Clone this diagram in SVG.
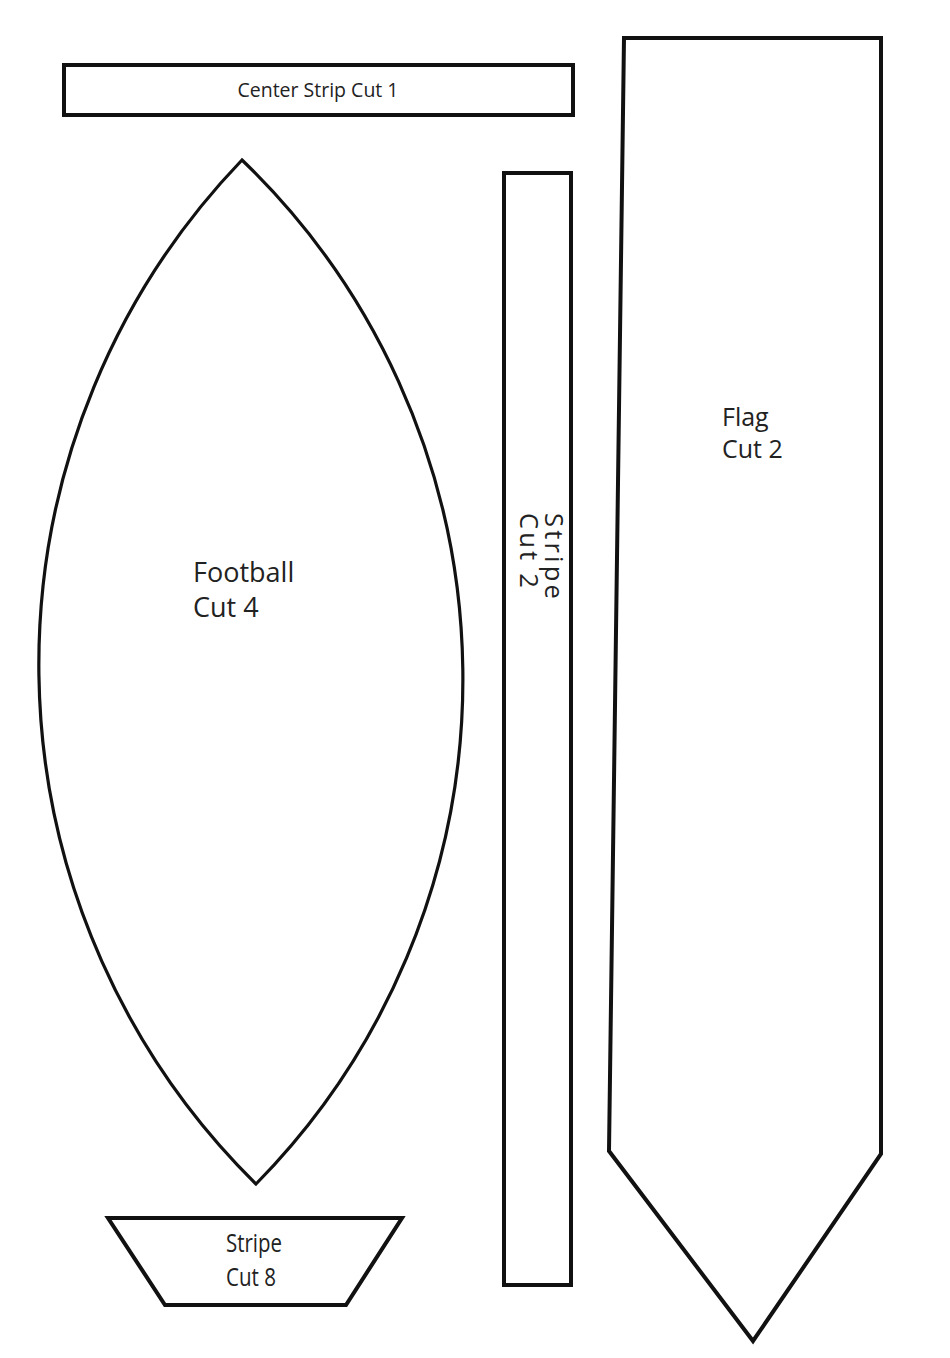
<svg xmlns="http://www.w3.org/2000/svg" width="950" height="1358" viewBox="0 0 950 1358">
<style>
.shape{fill:#fff;stroke:#111;stroke-width:4;stroke-linejoin:miter}
.curve{fill:#fff;stroke:#111;stroke-width:3.2}
.lbl{font-family:"Open Sans","Liberation Sans",sans-serif;fill:#222}
</style>
<rect width="950" height="1358" fill="#fff"/>
<g id="center-strip">
<rect class="shape" x="64" y="65" width="509" height="50"/>
<text class="lbl" x="318" y="97" font-size="19.5" text-anchor="middle">Center Strip Cut 1</text>
</g>
<g id="football">
<path class="curve" d="M242,160 A729,729 0 0 0 256,1184 A720,720 0 0 0 242,160 Z"/>
<text class="lbl" x="193" y="582" font-size="27">Football</text>
<text class="lbl" x="193" y="617" font-size="27">Cut 4</text>
</g>
<g id="stripe-small">
<polygon class="shape" points="108,1218 402,1218 346,1305 165,1305"/>
<text class="lbl" x="226" y="1252" font-size="25" textLength="56" lengthAdjust="spacingAndGlyphs">Stripe</text>
<text class="lbl" x="226" y="1286" font-size="25" textLength="50" lengthAdjust="spacingAndGlyphs">Cut 8</text>
</g>
<g id="stripe-long">
<rect class="shape" x="504" y="173" width="67" height="1112"/>
<text class="lbl" transform="translate(545,513) rotate(90)" font-size="25.5" letter-spacing="3.2">Stripe</text>
<text class="lbl" transform="translate(520,513) rotate(90)" font-size="25.5" letter-spacing="3.2">Cut 2</text>
</g>
<g id="flag">
<polygon class="shape" points="624,38 881,38 881,1154 753,1341 609,1151"/>
<text class="lbl" x="722" y="426" font-size="25">Flag</text>
<text class="lbl" x="722" y="458" font-size="25">Cut 2</text>
</g>
<g id="connectors"></g>
</svg>
